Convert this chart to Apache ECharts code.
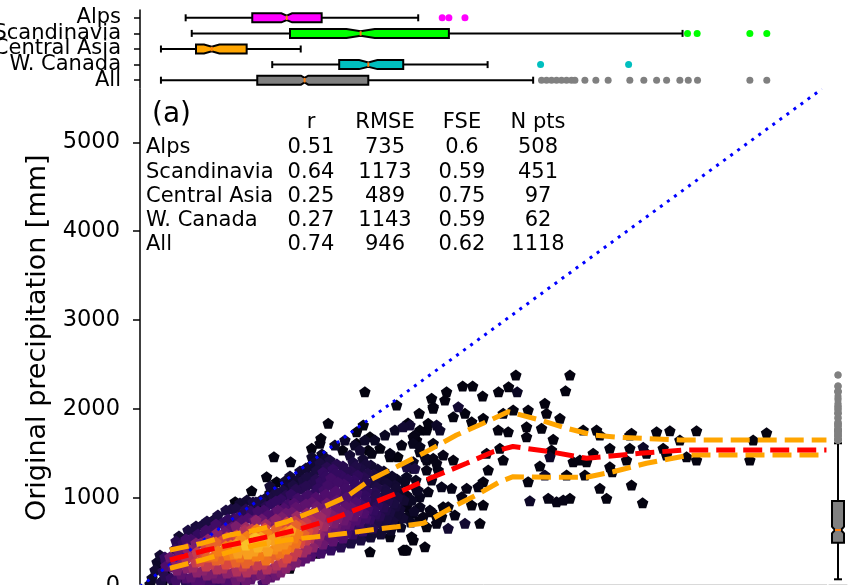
<!DOCTYPE html>
<html><head><meta charset="utf-8">
<script src="https://cdn.jsdelivr.net/npm/echarts@6/dist/echarts.min.js"></script>
<style>html,body{margin:0;padding:0;background:#fff}#c{width:848px;height:585px}</style>
</head><body><div id="c"></div>
<script>
// ---------- categories ----------
const regions = ['Alps', 'Scandinavia', 'Central Asia', 'W. Canada', 'All'];
const regionColors = ['#ff00ff', '#00ff00', '#ffa500', '#00bfbf', '#808080'];

// ---------- top boxplot statistics (x variable, mm) ----------
const boxLow     = [375, 425, 172, 1086, 172];
const boxQ1      = [922, 1232, 460, 1636, 963];
const boxNotchLo = [1161, 1696, 526, 1800, 1322];
const boxMed     = [1205, 1812, 589, 1875, 1352];
const boxNotchHi = [1249, 1928, 652, 1950, 1382];
const boxQ3      = [1492, 2537, 876, 2162, 1875];
const boxHigh    = [2285, 4456, 1320, 2855, 3229];
const outAlps  = [2482, 2537, 2669];
const outScand = [4497, 4576, 5009, 5148];
const outCAsia = [];
const outWCan  = [3290, 4013];
const outAll   = [3298, 3339, 3380, 3421, 3462, 3503, 3544, 3572, 3654, 3744, 3845, 4023, 4138, 4243, 4325, 4434, 4503, 4579, 5009, 5148];

// ---------- right boxplot statistics (y variable, mm): low, q1, notchLo, med, notchHi, q3, high ----------
const yBox = [81, 493, 599, 636, 673, 962, 1612];

// ---------- axis ranges / ticks ----------
const xMax = 5640;
const yMax = 5600;
const yTickStep = 1000;
const oneToOne = [0, 5600];

// ---------- statistics table ----------
const tableHeader = ['r', 'RMSE', 'FSE', 'N pts'];
const statR    = ['0.51', '0.64', '0.25', '0.27', '0.74'];
const statRMSE = ['735', '1173', '489', '1143', '946'];
const statFSE  = ['0.6', '0.59', '0.75', '0.59', '0.62'];
const statN    = ['508', '451', '97', '62', '1118'];

// ---------- binned median / quantile lines ----------
const medX = [246, 548, 930, 1287, 1560, 1834, 2108, 2381, 2683, 2901, 3063, 3367, 3668, 4106, 4461, 5638];
const medY = [298, 411, 523, 636, 749, 898, 1049, 1218, 1387, 1517, 1576, 1517, 1443, 1499, 1536, 1536];
const upX  = [246, 507, 739, 958, 1205, 1451, 1697, 1889, 2108, 2326, 2600, 2819, 3024, 3284, 3504, 3722, 3941, 4434, 5638];
const upY  = [411, 486, 580, 636, 729, 861, 1011, 1199, 1348, 1499, 1705, 1837, 1968, 1874, 1781, 1705, 1679, 1649, 1649];
const loX  = [246, 507, 739, 958, 1205, 1451, 1697, 1889, 2108, 2326, 2408, 2573, 2765, 2956, 3065, 3367, 3668, 3886, 4160, 4516, 5638];
const loY  = [205, 298, 392, 467, 523, 561, 599, 636, 673, 711, 768, 898, 1030, 1180, 1236, 1229, 1229, 1292, 1387, 1480, 1480];

// ---------- scatter points [x mm, y mm, point density 0..1] ----------
const sparsePts = [
[1847,2193,0.04],[1546,1837,0.04],[1100,1461,0.04],[1237,1405,0.04],[917,1078,0.04],[782,955,0.04],[2108,2043,0.04],[2293,1950,0.04],[1486,1668,0.04],[1410,1556,0.04],[1664,1536,0.04],[1779,1742,0.04],[1889,1686,0.04],[1875,1536,0.04],[1971,1556,0.04],[2053,1461,0.04],[2118,1461,0.04],[2201,1840,0.04],[2299,1761,0.04],[2272,1649,0.04],[2354,1761,0.04],[1338,1221,0.06],[1396,1236,0.06],[1451,1123,0.06],[1232,1199,0.06],[1205,1086,0.06],[1067,1052,0.06],[1133,974,0.06],[1010,898,0.06],[958,861,0.06],[876,786,0.06],[712,729,0.06],[602,749,0.06],[548,673,0.06],[438,617,0.06],[383,448,0.06],[178,261,0.04],[205,149,0.04],[191,73,0.04],[356,110,0.06],[466,110,0.06],[630,149,0.06],[739,110,0.06],[848,149,0.06],[958,186,0.06],[1164,205,0.04],[1259,298,0.04],[1328,335,0.04],[1451,374,0.04],[1889,392,0.04],[2162,411,0.04],[2244,523,0.04],[2340,448,0.04],[2135,805,0.06],[2190,898,0.06],[2326,786,0.06],[2026,749,0.06],
[3087,2381,0.04],[3531,2381,0.04],[3495,2204,0.04],[2650,2257,0.04],[2732,2257,0.04],[2814,2144,0.04],[2945,2193,0.04],[3027,2249,0.04],[3098,2193,0.1],[2518,2193,0.04],[2395,2118,0.04],[2504,2099,0.04],[2408,2024,0.04],[2614,2024,0.15],[2669,1950,0.04],[2573,1911,0.04],[2724,1855,0.04],[3065,1987,0.04],[3188,1987,0.04],[3325,2062,0.04],[3339,1950,0.04],[3449,1893,0.04],[3298,1781,0.04],[2942,1761,0.04],[3024,1742,0.04],[3175,1686,0.04],[3394,1657,0.04],[3640,1761,0.04],[3750,1761,0.04],[3777,1705,0.04],[4037,1724,0.04],[4243,1742,0.04],[4352,1754,0.04],[4571,1754,0.04],[5146,1731,0.04],[4434,1649,0.04],[5036,1649,0.04],[3859,1556,0.04],[4023,1556,0.04],[4133,1567,0.12],[4160,1499,0.04],[4325,1480,0.04],[4489,1461,0.04],[4571,1424,0.04],[5009,1424,0.04],[3722,1499,0.04],[3613,1424,0.04],[3668,1405,0.04],[3367,1461,0.12],[3380,1536,0.04],[3558,1405,0.04],[3859,1348,0.04],[3996,1424,0.04],[3284,1356,0.04],[3325,1255,0.12],[3504,1255,0.04],[3654,1255,0.04],[3188,1180,0.04],[3777,1105,0.04],[4037,1142,0.04],[3832,993,0.04],[4128,943,0.04],[3202,966,0.12],[3353,993,0.06],[3421,955,0.06],[3476,974,0.06],[3531,993,0.04],[3175,1799,0.04],[2847,1499,0.04],[2956,1556,0.04],[2983,1424,0.04],[2860,1311,0.04],[2819,1180,0.04],[2778,1123,0.06],[2683,1105,0.06],[2724,917,0.04],[2819,917,0.04],[2792,711,0.04],[2669,711,0.15],[2586,805,0.06],[2531,898,0.06],[2642,1011,0.06],[2559,1105,0.06],[2477,1123,0.08],[2395,1199,0.08],[2449,1311,0.06],[2573,1424,0.04],[2490,1480,0.06],[2408,1612,0.06],[2258,1705,0.06],[2244,1612,0.08],[2217,1818,0.15],[2162,1799,0.15],[2299,1574,0.08],[2340,1461,0.08],[2244,1405,0.1],[2190,1348,0.2],[2258,1330,0.2],[2190,1236,0.1],[2299,1011,0.08],[2217,974,0.1],[2299,898,0.08],[2395,842,0.06],[2190,786,0.08],[2299,749,0.06],[2436,711,0.06],[2531,655,0.15],[2176,411,0.04],[2490,898,0.04],[2477,786,0.04],
[2408,2006,0.04],[2367,1837,0.04],[1834,1818,0.04],[1779,1612,0.04],[1478,1612,0.04],[1410,1367,0.08],[1478,1199,0.1],[1314,1123,0.08],[1232,1011,0.08],[1177,898,0.08],[1903,1499,0.06],[2053,1499,0.06],[2149,1593,0.06],[2244,1686,0.06],[2299,1517,0.06],[2354,1424,0.06],[2408,1443,0.06],[2244,1330,0.08],[2354,1311,0.06],[2436,1387,0.06],[2053,1199,0.1],[2121,1086,0.1],[2272,1086,0.08],[2367,1067,0.06],[2190,1030,0.08],[2381,861,0.06],[2244,824,0.06],[2436,786,0.06],[2354,673,0.04],[2231,561,0.04],[2190,411,0.04],[2053,561,0.06],[1205,298,0.06],[1232,205,0.04],
[1040,1236,0.04],[1122,1180,0.04],[205,223,0.06],[4023,1705,0.04],[4297,1556,0.04],[3879,1292,0.04],[2819,1893,0.04],[2983,1950,0.04],[2436,1818,0.12],[2463,1761,0.12]
];
const densePts = [
[99,96,0.12],[123,186,0.15],[82,28,0.1],[140,276,0.12],
[172,51,0.2],[189,175,0.25],[213,276,0.3],[164,355,0.15],
[255,96,0.3],[271,220,0.45],[246,332,0.5],[287,422,0.3],[279,28,0.2],
[337,141,0.45],[361,265,0.6],[328,377,0.5],[353,490,0.3],[378,39,0.25],[320,569,0.15],
[419,107,0.45],[435,220,0.65],[411,332,0.7],[443,434,0.55],[419,535,0.35],[452,636,0.2],[427,17,0.3],
[501,73,0.4],[518,186,0.6],[493,287,0.8],[526,388,0.8],[501,490,0.55],[534,591,0.35],[509,692,0.2],
[583,51,0.35],[600,152,0.55],[575,253,0.75],[608,343,0.88],[583,445,0.85],[616,546,0.55],[591,647,0.35],[608,749,0.2],
[665,96,0.5],[682,208,0.7],[657,310,0.85],[690,411,0.9],[665,512,0.8],[698,614,0.5],[673,715,0.3],[657,28,0.3],
[747,62,0.4],[764,163,0.6],[739,265,0.8],[772,366,0.92],[747,467,0.9],[780,569,0.75],[755,670,0.45],[772,771,0.3],[747,873,0.2],
[829,118,0.55],[846,231,0.75],[821,332,0.88],[854,434,0.95],[829,535,0.92],[862,636,0.7],[837,738,0.4],[854,839,0.25],[821,940,0.15],[846,17,0.3],
[911,84,0.45],[928,197,0.7],[903,298,0.85],[936,400,0.95],[911,501,1.0],[944,557,0.98],[919,647,0.75],[936,749,0.45],[911,850,0.3],[928,951,0.2],
[993,141,0.55],[1010,253,0.75],[985,355,0.9],[1018,456,0.95],[993,557,0.96],[1026,659,0.8],[1001,760,0.5],[1018,861,0.35],[993,974,0.2],[1010,39,0.35],
[1075,107,0.45],[1092,208,0.65],[1067,321,0.85],[1100,422,0.92],[1075,524,0.95],[1108,625,0.85],[1083,726,0.55],[1100,828,0.4],[1075,929,0.3],[1092,1030,0.2],[1067,1132,0.15],
[1157,163,0.55],[1174,276,0.75],[1149,377,0.88],[1182,479,0.93],[1157,580,0.92],[1190,681,0.8],[1165,783,0.55],[1182,884,0.4],[1157,985,0.3],[1174,1087,0.2],[1190,1188,0.15],
[1240,242,0.55],[1257,343,0.75],[1232,445,0.88],[1265,546,0.9],[1240,636,0.95],[1273,738,0.75],[1248,839,0.5],[1265,940,0.4],[1240,1042,0.3],[1257,1143,0.2],[1232,1244,0.15],
[1322,287,0.45],[1339,388,0.65],[1314,490,0.8],[1347,591,0.85],[1322,692,0.8],[1355,794,0.6],[1330,895,0.45],[1347,997,0.35],[1322,1098,0.25],[1339,1199,0.2],[1314,1300,0.15],
[1404,343,0.4],[1421,445,0.6],[1396,546,0.7],[1429,647,0.75],[1404,749,0.7],[1437,850,0.55],[1412,951,0.45],[1429,1053,0.3],[1404,1154,0.25],[1421,1255,0.2],[1396,1357,0.15],[1412,1458,0.12],
[1486,377,0.35],[1503,479,0.5],[1478,580,0.6],[1511,681,0.65],[1486,783,0.65],[1519,884,0.5],[1494,985,0.4],[1511,1087,0.35],[1486,1188,0.3],[1503,1289,0.3],[1478,1391,0.2],[1494,1492,0.12],
[1568,411,0.3],[1585,512,0.45],[1560,614,0.5],[1593,715,0.55],[1568,816,0.55],[1601,918,0.45],[1576,1019,0.4],[1593,1120,0.35],[1568,1222,0.35],[1585,1323,0.3],[1560,1424,0.2],
[1650,445,0.25],[1667,546,0.4],[1642,647,0.45],[1675,749,0.5],[1650,850,0.5],[1683,951,0.4],[1658,1053,0.35],[1675,1154,0.35],[1650,1255,0.3],[1667,1357,0.25],
[1732,490,0.2],[1749,591,0.3],[1724,692,0.4],[1757,794,0.45],[1732,895,0.45],[1765,997,0.35],[1740,1098,0.3],[1757,1199,0.3],[1732,1300,0.25],[1749,1402,0.2],
[1814,524,0.2],[1831,625,0.3],[1806,726,0.35],[1839,828,0.4],[1814,929,0.35],[1847,1030,0.3],[1822,1132,0.25],[1839,1233,0.25],[1814,1334,0.2],[1831,1436,0.15],
[1896,557,0.15],[1913,659,0.25],[1888,760,0.3],[1921,861,0.3],[1896,963,0.25],[1929,1064,0.25],[1904,1165,0.2],[1921,1267,0.2],[1896,1368,0.15],
[1978,591,0.15],[1995,692,0.2],[1970,794,0.25],[2003,895,0.25],[1978,997,0.2],[2011,1098,0.2],[1986,1199,0.15],[2003,1300,0.12],
[2061,636,0.12],[2078,738,0.18],[2053,839,0.2],[2086,940,0.2],[2061,1042,0.18],[2094,1143,0.15],[2070,1244,0.12],
[2143,670,0.1],[2160,771,0.15],[2135,873,0.15],[2168,974,0.15],[2143,1075,0.12],[2176,1177,0.1],
[2225,726,0.1],[2250,850,0.12],[2233,974,0.1],[2283,1087,0.1],[2266,1199,0.08],
[1601,1593,0.12],[1683,1649,0.12],[1765,1593,0.12],[1847,1649,0.12],[1929,1649,0.1],[2012,1706,0.1],[2094,1762,0.1],[1724,1481,0.15],[1806,1537,0.15],
[205,118,0.25],[213,231,0.4],[205,332,0.3],
[296,73,0.35],[304,186,0.55],[296,287,0.6],[312,400,0.45],[296,512,0.25],
[378,96,0.4],[386,208,0.6],[378,321,0.7],[386,434,0.6],[378,535,0.35],[394,636,0.2],
[460,51,0.4],[468,163,0.6],[460,276,0.75],[468,388,0.75],[460,490,0.55],[476,591,0.3],[460,681,0.18],
[542,17,0.35],[550,129,0.55],[542,231,0.75],[550,332,0.85],[542,434,0.8],[558,535,0.6],[542,636,0.35],[550,738,0.2],
[624,96,0.5],[632,197,0.7],[624,298,0.85],[640,400,0.9],[624,501,0.85],[632,602,0.6],[624,704,0.35],[640,805,0.2],
[706,51,0.4],[714,152,0.6],[706,253,0.8],[722,355,0.9],[706,456,0.9],[714,557,0.75],[706,659,0.45],[722,760,0.3],[706,861,0.2],
[788,73,0.5],[796,175,0.7],[788,276,0.85],[804,377,0.95],[788,479,0.95],[796,580,0.8],[788,681,0.55],[804,783,0.35],[788,884,0.2],
[870,62,0.5],[878,163,0.7],[870,265,0.85],[886,366,0.95],[870,467,1.0],[878,569,0.9],[870,670,0.65],[886,771,0.4],[870,873,0.25],[878,974,0.15],
[952,129,0.5],[960,242,0.75],[952,343,0.9],[968,445,0.98],[952,546,1.0],[960,647,0.9],[952,749,0.6],[968,850,0.35],[952,951,0.2],
[1034,84,0.5],[1042,197,0.7],[1034,298,0.88],[1050,400,0.95],[1034,501,0.97],[1042,602,0.9],[1034,704,0.65],[1050,805,0.4],[1034,906,0.25],[1042,1008,0.15],
[1116,129,0.5],[1124,242,0.7],[1116,355,0.85],[1133,456,0.93],[1116,557,0.95],[1124,659,0.85],[1116,760,0.6],[1133,861,0.45],[1116,963,0.3],[1124,1064,0.2],
[1199,208,0.6],[1207,321,0.8],[1199,422,0.9],[1215,524,0.93],[1199,625,0.9],[1207,726,0.75],[1199,828,0.5],[1215,929,0.35],[1199,1030,0.25],[1207,1132,0.15],
[1281,276,0.55],[1289,388,0.75],[1281,490,0.88],[1297,591,0.9],[1281,692,0.85],[1289,794,0.65],[1281,895,0.45],[1297,997,0.35],[1281,1098,0.25],[1289,1199,0.15],
[1363,321,0.45],[1371,422,0.65],[1363,524,0.75],[1379,625,0.8],[1363,726,0.75],[1371,828,0.6],[1363,929,0.45],[1379,1030,0.35],[1363,1132,0.25],[1371,1233,0.2],[1363,1334,0.15],
[1445,400,0.35],[1453,501,0.55],[1445,602,0.65],[1461,704,0.7],[1445,805,0.65],[1453,906,0.5],[1445,1008,0.4],[1461,1109,0.3],[1445,1210,0.25],[1453,1312,0.2],[1445,1413,0.15],
[1527,434,0.3],[1535,535,0.45],[1527,636,0.55],[1543,738,0.6],[1527,839,0.6],[1535,940,0.5],[1527,1042,0.4],[1543,1143,0.35],[1527,1244,0.3],[1535,1346,0.25],[1527,1447,0.15],
[1609,467,0.25],[1617,569,0.4],[1609,670,0.5],[1625,771,0.55],[1609,873,0.5],[1617,974,0.45],[1609,1075,0.4],[1625,1177,0.35],[1609,1278,0.3],[1617,1379,0.25],
[1691,501,0.2],[1699,602,0.35],[1691,704,0.45],[1707,805,0.5],[1691,906,0.45],[1699,1008,0.4],[1691,1109,0.35],[1707,1210,0.3],[1691,1312,0.25],
[1773,546,0.2],[1781,647,0.3],[1773,749,0.4],[1789,850,0.45],[1773,951,0.4],[1781,1053,0.35],[1773,1154,0.3],[1789,1255,0.28],[1773,1357,0.22],
[1855,569,0.15],[1863,670,0.25],[1855,771,0.35],[1871,873,0.35],[1855,974,0.3],[1863,1075,0.28],[1855,1177,0.25],[1871,1278,0.22],[1855,1379,0.18],
[1937,614,0.15],[1945,715,0.22],[1937,816,0.28],[1953,918,0.28],[1937,1019,0.25],[1945,1120,0.22],[1937,1222,0.18],[1953,1323,0.15],
[2019,659,0.12],[2027,760,0.2],[2019,861,0.22],[2035,963,0.22],[2019,1064,0.2],[2027,1165,0.16],[2019,1267,0.12],
[2102,704,0.1],[2110,805,0.15],[2102,906,0.18],[2118,1008,0.18],[2102,1109,0.15],[2110,1210,0.1]
];

// ---------- build ----------
const FONT = 'DejaVu Sans';
const pentagon = 'path://M0,-10L9.511,-3.09L5.878,8.09L-5.878,8.09L-9.511,-3.09Z';
const scatterPts = sparsePts.concat(densePts).slice().sort((a, b) => a[2] - b[2]);

const boxData = regions.map((r, i) => [i, boxLow[i], boxQ1[i], boxNotchLo[i], boxMed[i], boxNotchHi[i], boxQ3[i], boxHigh[i]]);
const topOutliers = [outAlps, outScand, outCAsia, outWCan, outAll]
  .reduce((acc, arr, i) => acc.concat(arr.map(v => [v, i])), []);
const rightOutliers = scatterPts.filter(p => p[1] > yBox[6]).map(p => [0, p[1]]);

function hBox(params, api) {
  const ci = api.value(0);
  const low = api.value(1), q1 = api.value(2), nlo = api.value(3), med = api.value(4),
        nhi = api.value(5), q3 = api.value(6), high = api.value(7);
  const yc = api.coord([low, ci])[1];
  const X = v => api.coord([v, ci])[0];
  const h = 9, cap = 3.5;
  const ls = { stroke: '#000', lineWidth: 2 };
  const poly = [[X(q1), yc - h / 2], [X(nlo), yc - h / 2], [X(med), yc - h / 4], [X(nhi), yc - h / 2], [X(q3), yc - h / 2],
                [X(q3), yc + h / 2], [X(nhi), yc + h / 2], [X(med), yc + h / 4], [X(nlo), yc + h / 2], [X(q1), yc + h / 2]];
  return { type: 'group', children: [
    { type: 'line', shape: { x1: X(low), y1: yc, x2: X(q1), y2: yc }, style: ls },
    { type: 'line', shape: { x1: X(q3), y1: yc, x2: X(high), y2: yc }, style: ls },
    { type: 'line', shape: { x1: X(low), y1: yc - cap, x2: X(low), y2: yc + cap }, style: ls },
    { type: 'line', shape: { x1: X(high), y1: yc - cap, x2: X(high), y2: yc + cap }, style: ls },
    { type: 'polygon', shape: { points: poly }, style: { fill: regionColors[ci], stroke: '#000', lineWidth: 2 } },
    { type: 'line', shape: { x1: X(med), y1: yc - h / 4, x2: X(med), y2: yc + h / 4 }, style: { stroke: '#ff7f0e', lineWidth: 2 } }
  ]};
}
function vBox(params, api) {
  const low = api.value(1), q1 = api.value(2), nlo = api.value(3), med = api.value(4),
        nhi = api.value(5), q3 = api.value(6), high = api.value(7);
  const xc = api.coord([0, low])[0];
  const Y = v => api.coord([0, v])[1];
  const w = 12, cap = 4;
  const ls = { stroke: '#000', lineWidth: 2 };
  const poly = [[xc - w / 2, Y(q1)], [xc - w / 2, Y(nlo)], [xc - w / 4, Y(med)], [xc - w / 2, Y(nhi)], [xc - w / 2, Y(q3)],
                [xc + w / 2, Y(q3)], [xc + w / 2, Y(nhi)], [xc + w / 4, Y(med)], [xc + w / 2, Y(nlo)], [xc + w / 2, Y(q1)]];
  return { type: 'group', children: [
    { type: 'line', shape: { x1: xc, y1: Y(low), x2: xc, y2: Y(q1) }, style: ls },
    { type: 'line', shape: { x1: xc, y1: Y(q3), x2: xc, y2: Y(high) }, style: ls },
    { type: 'line', shape: { x1: xc - cap, y1: Y(low), x2: xc + cap, y2: Y(low) }, style: ls },
    { type: 'line', shape: { x1: xc - cap, y1: Y(high), x2: xc + cap, y2: Y(high) }, style: ls },
    { type: 'polygon', shape: { points: poly }, style: { fill: '#808080', stroke: '#000', lineWidth: 2 } },
    { type: 'line', shape: { x1: xc - w / 4, y1: Y(med), x2: xc + w / 4, y2: Y(med) }, style: { stroke: '#ff7f0e', lineWidth: 2 } }
  ]};
}

// table as graphic text
const colCenters = [311, 385, 462, 538];
const rowY0 = 148, rowStep = 24.25, headerY = 123;
const tableCols = [statR, statRMSE, statFSE, statN];
const graphic = [{ type: 'text', x: 152, y: 115, style: { text: '(a)', font: '28px "DejaVu Sans"', fill: '#000', align: 'left', verticalAlign: 'middle' } }];
tableHeader.forEach((t, j) => graphic.push({ type: 'text', x: colCenters[j], y: headerY,
  style: { text: t, font: '21px "DejaVu Sans"', fill: '#000', align: 'center', verticalAlign: 'middle' } }));
regions.forEach((r, i) => {
  graphic.push({ type: 'text', x: 146, y: rowY0 + i * rowStep,
    style: { text: r, font: '21px "DejaVu Sans"', fill: '#000', align: 'left', verticalAlign: 'middle' } });
  tableCols.forEach((col, j) => graphic.push({ type: 'text', x: colCenters[j], y: rowY0 + i * rowStep,
    style: { text: col[i], font: '21px "DejaVu Sans"', fill: '#000', align: 'center', verticalAlign: 'middle' } }));
});

const chart = echarts.init(document.getElementById('c'), null, { renderer: 'canvas' });
const dashLine = (xs, ys, color, z) => ({
  type: 'line', xAxisIndex: 1, yAxisIndex: 1, data: xs.map((x, i) => [x, ys[i]]),
  showSymbol: false, symbol: 'none', z: z, silent: true,
  lineStyle: { color: color, width: 5, type: [19, 8], cap: 'butt' }
});

chart.setOption({
  animation: false,
  backgroundColor: '#fff',
  textStyle: { fontFamily: FONT },
  grid: [
    { left: 140, width: 686.7, top: 10, height: 78, outerBoundsMode: 'none', containLabel: false },
    { left: 140, width: 686.7, top: 89, height: 497.5, outerBoundsMode: 'none', containLabel: false },
    { left: 829, width: 18, top: 89, height: 497.5, outerBoundsMode: 'none', containLabel: false }
  ],
  xAxis: [
    { gridIndex: 0, type: 'value', min: 0, max: xMax, show: false },
    { gridIndex: 1, type: 'value', min: 0, max: xMax, offset: -2.5,
      axisLine: { show: true, lineStyle: { color: '#d9d9d9', width: 1 } },
      axisTick: { show: false }, axisLabel: { show: false }, splitLine: { show: false } },
    { gridIndex: 2, type: 'category', data: ['y'], offset: -2.5,
      axisLine: { show: true, lineStyle: { color: '#d9d9d9', width: 1 } },
      axisTick: { show: false }, axisLabel: { show: false }, splitLine: { show: false } }
  ],
  yAxis: [
    { gridIndex: 0, type: 'category', data: regions, inverse: true,
      axisLine: { show: true, lineStyle: { color: '#000', width: 1.5 } },
      axisTick: { show: true, alignWithLabel: true, interval: 0, length: 6, lineStyle: { color: '#000', width: 1.5 } },
      axisLabel: { color: '#000', fontSize: 21, fontFamily: FONT, margin: 19, interval: 0, hideOverlap: false },
      splitLine: { show: false } },
    { gridIndex: 1, type: 'value', min: 0, max: yMax, interval: yTickStep,
      name: 'Original precipitation [mm]', nameLocation: 'middle', nameGap: 84,
      nameTextStyle: { color: '#000', fontSize: 27, fontFamily: FONT },
      axisLine: { show: true, lineStyle: { color: '#000', width: 1.5 } },
      axisTick: { show: true, length: 7, lineStyle: { color: '#000', width: 1.5 } },
      axisLabel: { color: '#000', fontSize: 22.5, fontFamily: FONT, margin: 20, showMaxLabel: false,
                   formatter: v => String(v) },
      splitLine: { show: false } },
    { gridIndex: 2, type: 'value', min: 0, max: yMax, show: false }
  ],
  visualMap: [{
    show: false, type: 'continuous', seriesIndex: 2, dimension: 2, min: 0, max: 1,
    inRange: { color: ['#000004', '#0a0722', '#1b0c41', '#330a5f', '#4f0d6c', '#6a176e', '#8a226a', '#b0315b', '#d9473f', '#f57d15', '#fac127'] }
  }],
  graphic: graphic,
  series: [
    { type: 'custom', xAxisIndex: 0, yAxisIndex: 0, renderItem: hBox, data: boxData,
      encode: { x: [1, 2, 3, 4, 5, 6, 7], y: 0 }, silent: true, z: 2 },
    { type: 'scatter', xAxisIndex: 0, yAxisIndex: 0, data: topOutliers, symbol: 'circle', symbolSize: 7, silent: true, z: 3,
      itemStyle: { color: p => regionColors[p.data[1]], opacity: 1 } },
    { type: 'scatter', xAxisIndex: 1, yAxisIndex: 1, data: scatterPts, symbol: pentagon, symbolSize: [11.5, 11],
      silent: true, z: 2, itemStyle: { opacity: 1 }, large: false, progressive: 0 },
    { type: 'line', xAxisIndex: 1, yAxisIndex: 1, data: [[oneToOne[0], oneToOne[0]], [oneToOne[1], oneToOne[1]]],
      showSymbol: false, symbol: 'none', silent: true, z: 3,
      lineStyle: { color: '#0000ff', width: 3, type: [3, 5.7], cap: 'butt' } },
    dashLine(upX, upY, '#ffa500', 4),
    dashLine(loX, loY, '#ffa500', 4),
    dashLine(medX, medY, '#ff0000', 5),
    { type: 'custom', xAxisIndex: 2, yAxisIndex: 2, renderItem: vBox,
      data: [[0].concat(yBox)], encode: { x: 0, y: [1, 2, 3, 4, 5, 6, 7] }, silent: true, z: 2 },
    { type: 'scatter', xAxisIndex: 2, yAxisIndex: 2, data: rightOutliers, symbol: 'circle', symbolSize: 7,
      silent: true, z: 3, itemStyle: { color: '#808080', opacity: 1 } }
  ]
});
</script>
</body></html>
